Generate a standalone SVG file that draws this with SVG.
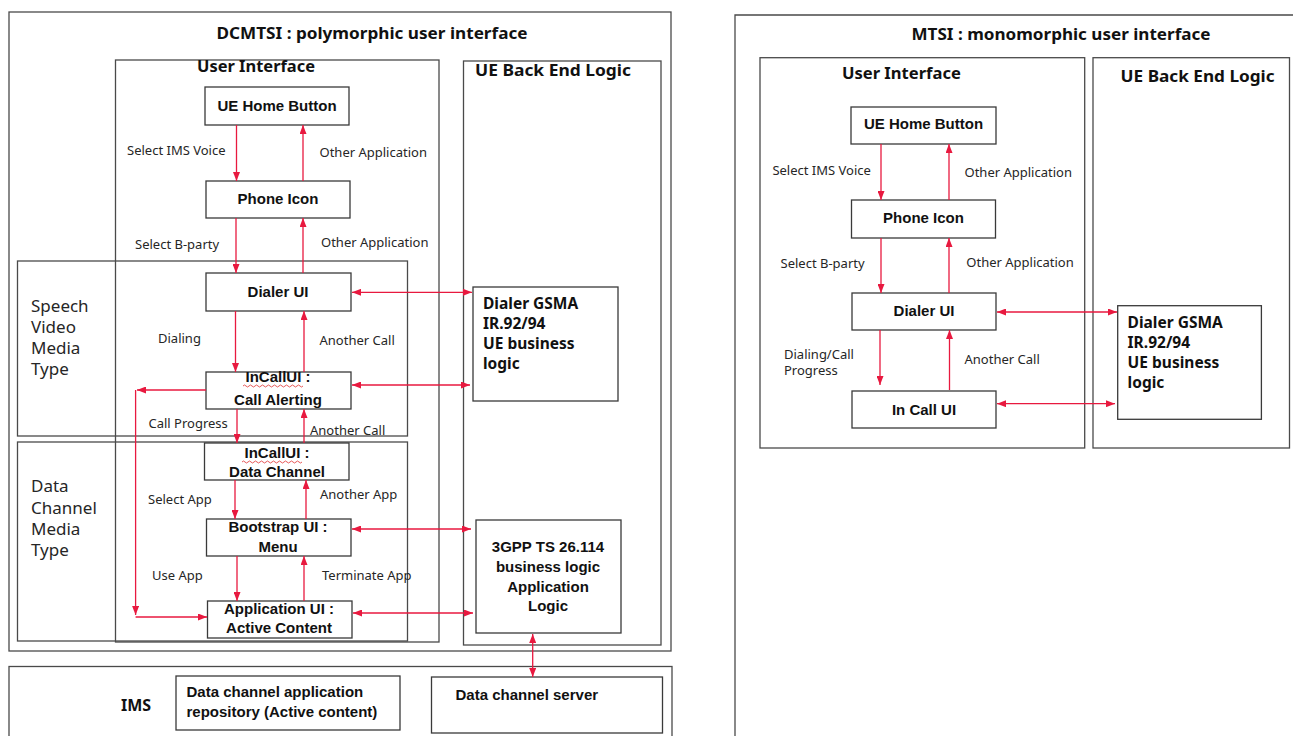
<svg xmlns="http://www.w3.org/2000/svg" width="1293" height="736" viewBox="0 0 1293 736">
<style>
.box{fill:none;stroke:#4a4a4a;stroke-width:1.3}
.nb{fill:#fff;stroke:#3a3a3a;stroke-width:1.3}
.c{fill:none;stroke:#E8193F;stroke-width:1.3}
.t{font-family:"Noto Sans","Liberation Sans",sans-serif;font-weight:bold;font-size:16px;fill:#111;text-anchor:middle}
.n{font-family:"Liberation Sans",Arial,sans-serif;font-weight:bold;font-size:15px;fill:#111;text-anchor:middle}
.nl{font-family:"Liberation Sans",Arial,sans-serif;font-weight:bold;font-size:15px;fill:#111}
.g{font-family:"Noto Sans","Liberation Sans",sans-serif;font-weight:bold;font-size:15.5px;fill:#111}
.l{font-family:"Noto Sans","Liberation Sans",sans-serif;font-size:13px;fill:#262626}
.m{font-family:"Noto Sans","Liberation Sans",sans-serif;font-size:17px;fill:#262626}
.sq{fill:none;stroke:#e03030;stroke-width:0.8}
</style>
<defs>
<marker id="a" viewBox="0 0 9 7" refX="9" refY="3.5" markerWidth="9" markerHeight="7" markerUnits="userSpaceOnUse" orient="auto-start-reverse">
<path d="M0,0 L9,3.5 L0,7 z" fill="#E8193F"/>
</marker>
</defs>

<g id="dcmtsi-frame">
<rect class="box" x="9" y="12" width="662" height="639"/>
<text class="t" x="372" y="39" font-size="16.5" textLength="311" lengthAdjust="spacingAndGlyphs">DCMTSI : polymorphic user interface</text>
</g>
<g id="dcmtsi-ui">
<rect class="box" x="115.5" y="60" width="323.5" height="582"/>
<text class="t" x="256" y="72" textLength="118" lengthAdjust="spacingAndGlyphs">User Interface</text>
</g>
<g id="dcmtsi-backend">
<rect class="box" x="463.5" y="61" width="197.5" height="584"/>
<text class="t" x="553" y="76" textLength="156" lengthAdjust="spacingAndGlyphs">UE Back End Logic</text>
</g>
<g id="speech-video">
<rect class="box" x="17.5" y="261" width="390" height="175"/>
<text class="m" x="31" y="312">Speech</text>
<text class="m" x="31" y="333">Video</text>
<text class="m" x="31" y="354">Media</text>
<text class="m" x="31" y="375">Type</text>
</g>
<g id="data-channel-media">
<rect class="box" x="17.5" y="442" width="390" height="199"/>
<text class="m" x="31" y="492">Data</text>
<text class="m" x="31" y="513.5">Channel</text>
<text class="m" x="31" y="535">Media</text>
<text class="m" x="31" y="556">Type</text>
</g>

<g id="l-home">
<rect class="nb" x="205" y="87" width="144" height="38"/>
<text class="n" x="277" y="111">UE Home Button</text>
</g>
<g id="l-phone">
<rect class="nb" x="206" y="181" width="144" height="37"/>
<text class="n" x="278" y="204">Phone Icon</text>
</g>
<g id="l-dialer">
<rect class="nb" x="206" y="273" width="145" height="38"/>
<text class="n" x="278" y="297">Dialer UI</text>
</g>
<g id="l-alerting">
<rect class="nb" x="206" y="372" width="145" height="37"/>
<text class="n" x="278" y="382">InCallUI :</text>
<text class="n" x="278" y="405">Call Alerting</text>
<path class="sq" d="M243,386 q1.5,-2 3,0 t3,0 t3,0 t3,0 t3,0 t3,0 t3,0 t3,0 t3,0 t3,0 t3,0 t3,0 t3,0 t3,0 t3,0 t3,0 t3,0 t3,0 t3,0 t3,0"/>
</g>
<g id="l-datachannel">
<rect class="nb" x="204.5" y="443" width="144.5" height="37"/>
<text class="n" x="277" y="458">InCallUI :</text>
<text class="n" x="277" y="477">Data Channel</text>
<path class="sq" d="M242,462 q1.5,-2 3,0 t3,0 t3,0 t3,0 t3,0 t3,0 t3,0 t3,0 t3,0 t3,0 t3,0 t3,0 t3,0 t3,0 t3,0 t3,0 t3,0 t3,0 t3,0 t3,0"/>
</g>
<g id="l-bootstrap">
<rect class="nb" x="206.5" y="519" width="144.5" height="37"/>
<text class="n" x="278" y="532">Bootstrap UI :</text>
<text class="n" x="278" y="552">Menu</text>
</g>
<g id="l-appui">
<rect class="nb" x="207.5" y="601" width="144.5" height="37"/>
<text class="n" x="279" y="614">Application UI :</text>
<text class="n" x="279" y="633">Active Content</text>
</g>
<g id="l-gsma">
<rect class="nb" x="473" y="287" width="145" height="114"/>
<text class="g" x="483" y="309">Dialer GSMA</text>
<text class="g" x="483" y="329">IR.92/94</text>
<text class="g" x="483" y="349">UE business</text>
<text class="g" x="483" y="369">logic</text>
</g>
<g id="l-3gpp">
<rect class="nb" x="476" y="520" width="145" height="113"/>
<text class="n" x="548" y="552" font-size="15.5">3GPP TS 26.114</text>
<text class="n" x="548" y="572" font-size="15.5">business logic</text>
<text class="n" x="548" y="592" font-size="15.5">Application</text>
<text class="n" x="548" y="611" font-size="15.5">Logic</text>
</g>

<g id="ims">
<rect class="box" x="9" y="666.5" width="663" height="80"/>
<text class="t" x="136" y="711">IMS</text>
</g>
<g id="ims-repository">
<rect class="nb" x="176" y="676" width="224" height="54"/>
<text class="nl" x="186.5" y="697">Data channel application</text>
<text class="nl" x="186.5" y="717">repository (Active content)</text>
</g>
<g id="ims-server">
<rect class="nb" x="431.5" y="677" width="231" height="56"/>
<text class="nl" x="455.5" y="700">Data channel server</text>
</g>

<g id="mtsi-frame">
<path class="box" d="M735,740 V15 H1293"/>
<text class="t" x="1061" y="40" font-size="16.5" textLength="299" lengthAdjust="spacingAndGlyphs">MTSI : monomorphic user interface</text>
</g>
<g id="mtsi-ui">
<rect class="box" x="760" y="57.7" width="324.7" height="390.3"/>
<text class="t" x="901.4" y="79" textLength="119" lengthAdjust="spacingAndGlyphs">User Interface</text>
</g>
<g id="mtsi-backend">
<rect class="box" x="1093" y="57.7" width="196.5" height="390.3"/>
<text class="t" x="1197.6" y="82" textLength="154" lengthAdjust="spacingAndGlyphs">UE Back End Logic</text>
</g>
<g id="r-home">
<rect class="nb" x="851" y="107" width="145" height="37"/>
<text class="n" x="923.5" y="129">UE Home Button</text>
</g>
<g id="r-phone">
<rect class="nb" x="851.5" y="200" width="144" height="38"/>
<text class="n" x="923.5" y="223">Phone Icon</text>
</g>
<g id="r-dialer">
<rect class="nb" x="852" y="293" width="144" height="37"/>
<text class="n" x="924" y="316">Dialer UI</text>
</g>
<g id="r-incall">
<rect class="nb" x="852" y="391" width="144" height="37"/>
<text class="n" x="924" y="415">In Call UI</text>
</g>
<g id="r-gsma">
<rect class="nb" x="1117.7" y="305.7" width="143.7" height="113.6"/>
<text class="g" x="1127.6" y="328">Dialer GSMA</text>
<text class="g" x="1127.6" y="348">IR.92/94</text>
<text class="g" x="1127.6" y="368">UE business</text>
<text class="g" x="1127.6" y="388">logic</text>
</g>

<g id="connectors">
<path class="c" d="M236.5,125 V181" marker-end="url(#a)"/>
<path class="c" d="M303,181 V125" marker-end="url(#a)"/>
<path class="c" d="M236,218 V273" marker-end="url(#a)"/>
<path class="c" d="M303,273 V218" marker-end="url(#a)"/>
<path class="c" d="M235.5,311 V372" marker-end="url(#a)"/>
<path class="c" d="M304,372 V311" marker-end="url(#a)"/>
<path class="c" d="M237,409 V443" marker-end="url(#a)"/>
<path class="c" d="M304,443 V409" marker-end="url(#a)"/>
<path class="c" d="M235,480 V519" marker-end="url(#a)"/>
<path class="c" d="M306,519 V480" marker-end="url(#a)"/>
<path class="c" d="M237,556 V601" marker-end="url(#a)"/>
<path class="c" d="M304,601 V556" marker-end="url(#a)"/>
<path class="c" d="M352,292.3 H472" marker-start="url(#a)" marker-end="url(#a)"/>
<path class="c" d="M352,385 H470" marker-start="url(#a)" marker-end="url(#a)"/>
<path class="c" d="M352,529 H471" marker-start="url(#a)" marker-end="url(#a)"/>
<path class="c" d="M353,613 H473" marker-start="url(#a)" marker-end="url(#a)"/>
<path class="c" d="M206,390 H137" marker-end="url(#a)"/>
<path class="c" d="M135.6,390 V615" marker-end="url(#a)"/>
<path class="c" d="M135.6,617 H207" marker-end="url(#a)"/>
<path class="c" d="M532.7,634 V677" marker-start="url(#a)" marker-end="url(#a)"/>
<path class="c" d="M881,144 V200" marker-end="url(#a)"/>
<path class="c" d="M949,200 V144" marker-end="url(#a)"/>
<path class="c" d="M881,238 V293" marker-end="url(#a)"/>
<path class="c" d="M949,293 V238" marker-end="url(#a)"/>
<path class="c" d="M880,330 V385" marker-end="url(#a)"/>
<path class="c" d="M949.5,390 V330" marker-end="url(#a)"/>
<path class="c" d="M997,312 H1117" marker-start="url(#a)" marker-end="url(#a)"/>
<path class="c" d="M997,403.7 H1115" marker-start="url(#a)" marker-end="url(#a)"/>
</g>

<g id="edge-labels">
<text class="l" x="127" y="155">Select IMS Voice</text>
<text class="l" x="319.5" y="157">Other Application</text>
<text class="l" x="135" y="249">Select B-party</text>
<text class="l" x="321" y="247">Other Application</text>
<text class="l" x="158" y="343">Dialing</text>
<text class="l" x="319.5" y="345">Another Call</text>
<text class="l" x="148.5" y="428">Call Progress</text>
<text class="l" x="310" y="435">Another Call</text>
<text class="l" x="148" y="504">Select App</text>
<text class="l" x="320" y="499">Another App</text>
<text class="l" x="152" y="580">Use App</text>
<text class="l" x="322" y="580">Terminate App</text>
<text class="l" x="772.4" y="175">Select IMS Voice</text>
<text class="l" x="964.5" y="177">Other Application</text>
<text class="l" x="780.5" y="268">Select B-party</text>
<text class="l" x="966.3" y="267">Other Application</text>
<text class="l" x="784" y="359">Dialing/Call</text>
<text class="l" x="784" y="375">Progress</text>
<text class="l" x="964.5" y="364">Another Call</text>
</g>
</svg>
